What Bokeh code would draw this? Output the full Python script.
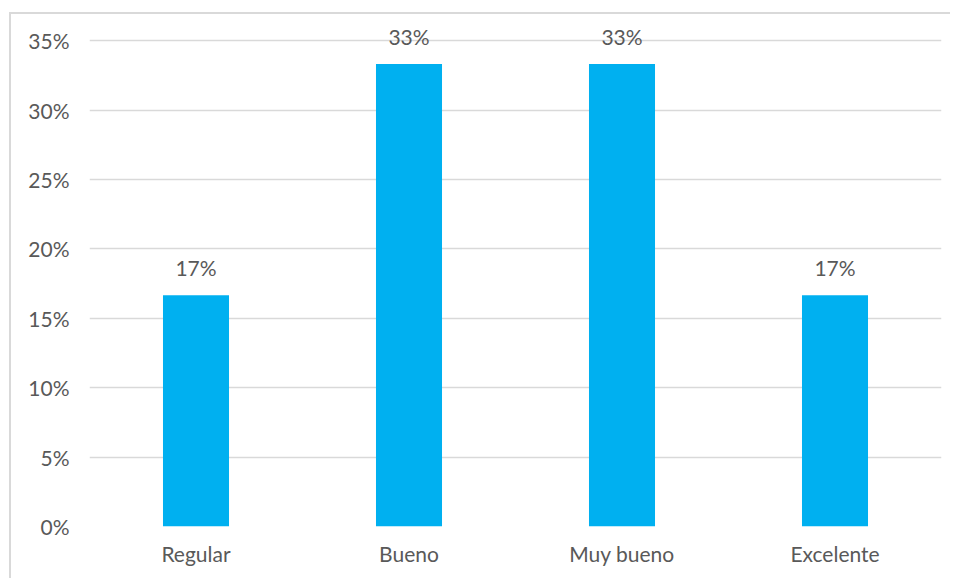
from bokeh.plotting import figure
from bokeh.models import ColumnDataSource, FactorRange, Range1d, NumeralTickFormatter, FixedTicker, LabelSet
from bokeh.core.properties import value
from bokeh.embed import file_html
from bokeh.resources import INLINE

categories = ["Regular", "Bueno", "Muy bueno", "Excelente"]
values = [0.1667, 0.3333, 0.3333, 0.1667]
labels = ["17%", "33%", "33%", "17%"]
y_ticks = [0, 0.05, 0.10, 0.15, 0.20, 0.25, 0.30, 0.35]

src = ColumnDataSource(dict(cat=categories, val=values, lab=labels))

FONT = "Lato"
TXT = "#595959"
FS = "21px"

p = figure(x_range=FactorRange(*categories, range_padding=0), y_range=Range1d(0, 0.369),
           width=941, height=566, output_backend="svg", toolbar_location=None,
           min_border_left=78, min_border_right=11, min_border_top=0, min_border_bottom=54)
p.styles = {"border-top": "2px solid #d9d9d9", "border-left": "2px solid #d9d9d9",
            "box-sizing": "border-box", "margin-left": "9px", "margin-top": "12px"}
p.outline_line_color = None
p.vbar(x="cat", top="val", width=0.31, source=src, fill_color="#00B0F0", line_color=None)

lbl = LabelSet(x="cat", y="val", text="lab", source=src, text_align="center", text_baseline="bottom",
               y_offset=15, text_font=value(FONT), text_font_size=value(FS), text_color=value(TXT))
p.add_layout(lbl)

p.xgrid.grid_line_color = None
p.ygrid.grid_line_color = "#d9d9d9"
p.ygrid.grid_line_width = 1.5
p.yaxis.ticker = FixedTicker(ticks=y_ticks)
p.yaxis.formatter = NumeralTickFormatter(format="0%")
for ax in (p.xaxis, p.yaxis):
    ax.axis_line_color = None
    ax.major_tick_line_color = None
    ax.minor_tick_line_color = None
    ax.major_label_text_font = FONT
    ax.major_label_text_font_size = FS
    ax.major_label_text_color = TXT
p.yaxis.major_label_standoff = 14
p.xaxis.major_label_standoff = 8

open("out.html", "w").write(file_html(p, INLINE))
